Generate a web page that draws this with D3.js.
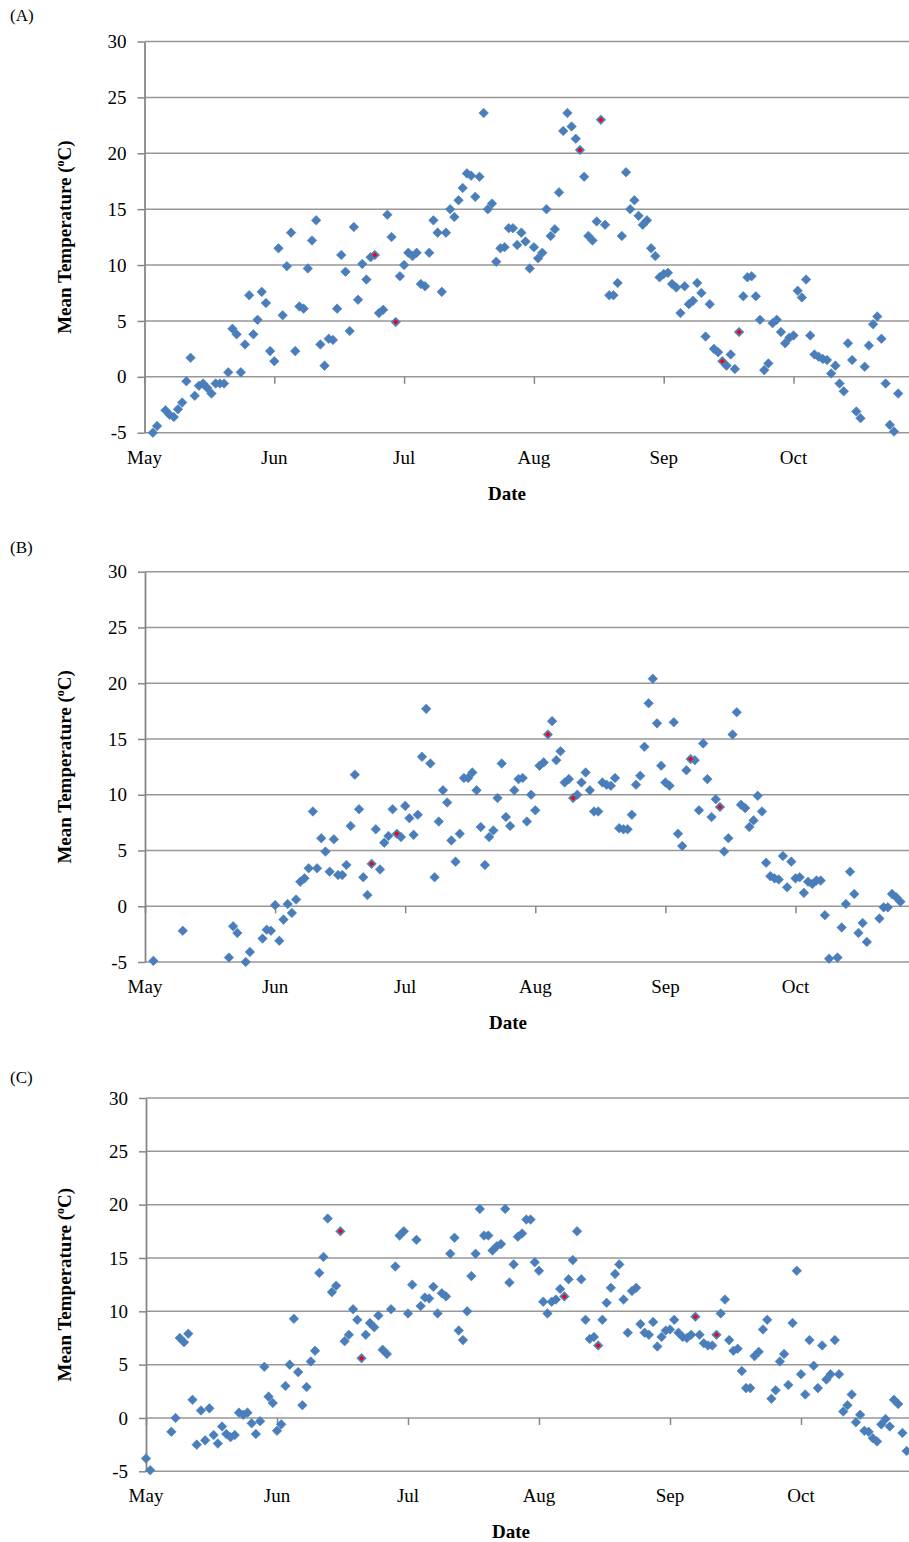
<!DOCTYPE html>
<html>
<head>
<meta charset="utf-8">
<script src="https://cdn.jsdelivr.net/npm/d3@7"></script>
<style>
  body { margin: 0; background: #fff; }
  svg { display: block; font-family: "Liberation Serif", "Times New Roman", serif; }
</style>
</head>
<body>
<div id="chart"></div>
<script>
// month labels and their offsets (days from May 1) on the date axis
const months = ["May", "Jun", "Jul", "Aug", "Sep", "Oct"];
const monthDays = [0, 31, 62, 93, 124, 155];
const yTicks = [-5, 0, 5, 10, 15, 20, 25, 30];

// daily mean temperature, index = days since May 1 (null = no reading)
const tempA = [
  null, null, -5.0, -4.4, null, -3.0, -3.4, -3.6, -2.9, -2.3,
  -0.4, 1.7, -1.7, -0.8, -0.6, -1.0, -1.5, -0.6, -0.6, -0.6,
  0.4, 4.3, 3.8, 0.4, 2.9, 7.3, 3.8, 5.1, 7.6, 6.6,
  2.3, 1.4, 11.5, 5.5, 9.9, 12.9, 2.3, 6.3, 6.1, 9.7,
  12.2, 14.0, 2.9, 1.0, 3.4, 3.3, 6.1, 10.9, 9.4, 4.1,
  13.4, 6.9, 10.1, 8.7, 10.7, 10.9, 5.7, 6.0, 14.5, 12.5,
  4.9, 9.0, 10.0, 11.1, 10.8, 11.1, 8.3, 8.1, 11.1, 14.0,
  12.9, 7.6, 12.9, 15.0, 14.3, 15.8, 16.9, 18.2, 18.0, 16.1,
  17.9, 23.6, 15.0, 15.5, 10.3, 11.5, 11.6, 13.3, 13.3, 11.8,
  12.9, 12.1, 9.7, 11.6, 10.6, 11.1, 15.0, 12.6, 13.2, 16.5,
  22.0, 23.6, 22.4, 21.3, 20.3, 17.9, 12.6, 12.2, 13.9, 23.0,
  13.6, 7.3, 7.3, 8.4, 12.6, 18.3, 15.0, 15.8, 14.4, 13.6,
  14.0, 11.5, 10.8, 8.9, 9.2, 9.3, 8.3, 8.0, 5.7, 8.1,
  6.5, 6.8, 8.4, 7.5, 3.6, 6.5, 2.5, 2.2, 1.4, 1.0,
  2.0, 0.7, 4.0, 7.2, 8.9, 9.0, 7.2, 5.1, 0.6, 1.2,
  4.8, 5.1, 4.0, 3.0, 3.5, 3.7, 7.7, 7.1, 8.7, 3.7,
  2.0, 1.8, 1.6, 1.5, 0.3, 1.0, -0.6, -1.3, 3.0, 1.5,
  -3.1, -3.7, 0.9, 2.8, 4.7, 5.4, 3.4, -0.6, -4.3, -4.9,
  -1.5
];
const tempB = [
  null, null, -4.9, null, null, null, null, null, null, -2.2,
  null, null, null, null, null, null, null, null, null, null,
  -4.6, -1.8, -2.4, null, -5.0, -4.1, null, null, -2.9, -2.1,
  -2.2, 0.1, -3.1, -1.2, 0.2, -0.6, 0.6, 2.2, 2.5, 3.4,
  8.5, 3.4, 6.1, 4.9, 3.1, 6.0, 2.8, 2.8, 3.7, 7.2,
  11.8, 8.7, 2.6, 1.0, 3.8, 6.9, 3.3, 5.7, 6.3, 8.7,
  6.5, 6.2, 9.0, 7.9, 6.4, 8.2, 13.4, 17.7, 12.8, 2.6,
  7.6, 10.4, 9.3, 5.9, 4.0, 6.5, 11.5, 11.5, 12.0, 10.4,
  7.1, 3.7, 6.2, 6.8, 9.7, 12.8, 8.0, 7.2, 10.4, 11.4,
  11.5, 7.6, 10.0, 8.6, 12.6, 12.9, 15.4, 16.6, 13.1, 13.9,
  11.1, 11.4, 9.7, 10.0, 11.1, 12.0, 10.4, 8.5, 8.5, 11.1,
  10.9, 10.8, 11.5, 7.0, 6.9, 6.9, 8.2, 10.9, 11.7, 14.3,
  18.2, 20.4, 16.4, 12.6, 11.1, 10.8, 16.5, 6.5, 5.4, 12.2,
  13.2, 13.1, 8.6, 14.6, 11.4, 8.0, 9.6, 8.9, 4.9, 6.1,
  15.4, 17.4, 9.1, 8.8, 7.1, 7.7, 9.9, 8.5, 3.9, 2.7,
  2.5, 2.4, 4.5, 1.7, 4.0, 2.5, 2.6, 1.2, 2.2, 2.0,
  2.3, 2.3, -0.8, -4.7, null, -4.6, -1.9, 0.2, 3.1, 1.1,
  -2.4, -1.5, -3.2, null, null, -1.1, -0.1, -0.1, 1.1, 0.8,
  0.4
];
const tempC = [
  -3.8, -4.9, null, null, null, null, -1.3, 0.0, 7.5, 7.1,
  7.9, 1.7, -2.5, 0.7, -2.1, 0.9, -1.6, -2.4, -0.8, -1.5,
  -1.8, -1.6, 0.5, 0.3, 0.5, -0.5, -1.5, -0.3, 4.8, 2.0,
  1.4, -1.2, -0.6, 3.0, 5.0, 9.3, 4.3, 1.2, 2.9, 5.3,
  6.3, 13.6, 15.1, 18.7, 11.8, 12.4, 17.5, 7.2, 7.8, 10.2,
  9.2, 5.6, 7.8, 8.9, 8.5, 9.6, 6.4, 6.0, 10.2, 14.2,
  17.1, 17.5, 9.8, 12.5, 16.7, 10.5, 11.3, 11.2, 12.3, 9.8,
  11.7, 11.4, 15.4, 16.9, 8.2, 7.3, 10.0, 13.3, 15.4, 19.6,
  17.1, 17.1, 15.7, 16.1, 16.3, 19.6, 12.7, 14.4, 17.0, 17.3,
  18.6, 18.6, 14.6, 13.8, 10.9, 9.8, 10.9, 11.1, 12.1, 11.4,
  13.0, 14.8, 17.5, 13.0, 9.2, 7.4, 7.6, 6.8, 9.2, 10.8,
  12.2, 13.5, 14.4, 11.1, 8.0, 11.9, 12.2, 8.8, 8.0, 7.8,
  9.0, 6.7, 7.6, 8.2, 8.3, 9.2, 8.0, 7.6, 7.5, 7.8,
  9.5, 7.8, 7.0, 6.8, 6.8, 7.8, 9.8, 11.1, 7.3, 6.3,
  6.5, 4.4, 2.8, 2.8, 5.8, 6.2, 8.3, 9.2, 1.8, 2.6,
  5.3, 6.0, 3.1, 8.9, 13.8, 4.1, 2.2, 7.3, 4.9, 2.8,
  6.8, 3.6, 4.1, 7.3, 4.1, 0.6, 1.2, 2.2, -0.4, 0.3,
  -1.2, -1.3, -1.9, -2.2, -0.6, -0.1, -0.8, 1.7, 1.3, -1.4,
  -3.1
];

// days highlighted with a red centre
const redA = [55, 60, 104, 109, 138, 142];
const redB = [54, 60, 96, 102, 130, 137];
const redC = [46, 51, 99, 107, 130, 135];

const width = 909,
  height = 1542,
  blue = "#4a7ebb",
  gridColor = "#979797",
  axisColor = "#868686";

// panel layout (pixels)
const panels = [
  { tag: "(A)", temps: tempA, red: redA, tagY: 21, top: 41.5, bottom: 432.7, x0: 144.5, step: 129.8, dateX: 507 },
  { tag: "(B)", temps: tempB, red: redB, tagY: 553, top: 571.7, bottom: 962, x0: 145, step: 130.1, dateX: 508 },
  { tag: "(C)", temps: tempC, red: redC, tagY: 1083, top: 1098, bottom: 1471.3, x0: 146, step: 131, dateX: 511 },
];

const svg = d3
  .select("#chart")
  .append("svg")
  .attr("width", width)
  .attr("height", height);

svg.append("rect").attr("width", width).attr("height", height).attr("fill", "#fff");

const diamond = d3.symbol().type(d3.symbolDiamond2).size(58);
const dot = d3.symbol().type(d3.symbolDiamond2).size(16);

panels.forEach((p) => {
  const y = d3.scaleLinear().domain([-5, 30]).range([p.bottom, p.top]);
  const x = d3
    .scaleLinear()
    .domain([0, monthDays[5]])
    .range([p.x0, p.x0 + 5 * p.step]);

  const g = svg.append("g");

  g.append("text")
    .attr("x", 10)
    .attr("y", p.tagY)
    .style("font-size", "17px")
    .text(p.tag);

  // horizontal gridlines
  g.selectAll(".grid")
    .data(yTicks)
    .join("line")
    .attr("class", "grid")
    .attr("x1", p.x0)
    .attr("x2", width)
    .attr("y1", (d) => y(d))
    .attr("y2", (d) => y(d))
    .style("stroke", gridColor)
    .style("stroke-width", 1.5);

  // y axis
  const yAxis = g
    .append("g")
    .attr("transform", `translate(${p.x0},0)`)
    .call(
      d3
        .axisLeft(y)
        .tickValues(yTicks)
        .tickFormat((d) => String(d))
        .tickSize(7)
        .tickSizeOuter(0)
        .tickPadding(11)
    );
  yAxis.select(".domain").style("stroke", axisColor).style("stroke-width", 1.8);
  yAxis.selectAll(".tick line").style("stroke", axisColor).style("stroke-width", 1.5);
  yAxis
    .selectAll(".tick text")
    .style("font-family", "Liberation Serif")
    .style("font-size", "19px")
    .style("fill", "#000");

  // x axis ticks sit on the zero line
  const xAxis = g
    .append("g")
    .attr("transform", `translate(0,${y(0)})`)
    .call(d3.axisBottom(x).tickValues(monthDays).tickSize(7).tickSizeOuter(0).tickFormat(""));
  xAxis.select(".domain").remove();
  xAxis.selectAll(".tick line").style("stroke", axisColor).style("stroke-width", 1.5);

  // month labels at the bottom of the plot
  g.selectAll(".month")
    .data(months)
    .join("text")
    .attr("class", "month")
    .attr("x", (d, i) => x(monthDays[i]))
    .attr("y", p.bottom + 31)
    .attr("text-anchor", "middle")
    .style("font-size", "19px")
    .text((d) => d);

  g.append("text")
    .attr("x", p.dateX)
    .attr("y", p.bottom + 67)
    .attr("text-anchor", "middle")
    .style("font-size", "19px")
    .style("font-weight", "bold")
    .text("Date");

  const title = g
    .append("text")
    .attr("transform", `translate(71,${(p.top + p.bottom) / 2}) rotate(-90)`)
    .attr("text-anchor", "middle")
    .style("font-size", "19px")
    .style("font-weight", "bold");
  title.append("tspan").text("Mean Temperature (");
  title.append("tspan").attr("dy", -7).style("font-size", "12px").text("o");
  title.append("tspan").attr("dy", 7).text("C)");

  const pts = p.temps
    .map((v, i) => ({ day: i, v: v, red: p.red.includes(i) }))
    .filter((d) => d.v !== null);

  g.selectAll(".pt")
    .data(pts)
    .join("path")
    .attr("class", "pt")
    .attr("d", diamond)
    .attr("transform", (d) => `translate(${x(d.day)},${y(d.v)})`)
    .style("fill", blue)
    .style("stroke", blue)
    .style("stroke-width", 0.6);

  g.selectAll(".redpt")
    .data(pts.filter((d) => d.red))
    .join("path")
    .attr("class", "redpt")
    .attr("d", dot)
    .attr("transform", (d) => `translate(${x(d.day)},${y(d.v)})`)
    .style("fill", "#ff0000");
});
</script>
</body>
</html>
